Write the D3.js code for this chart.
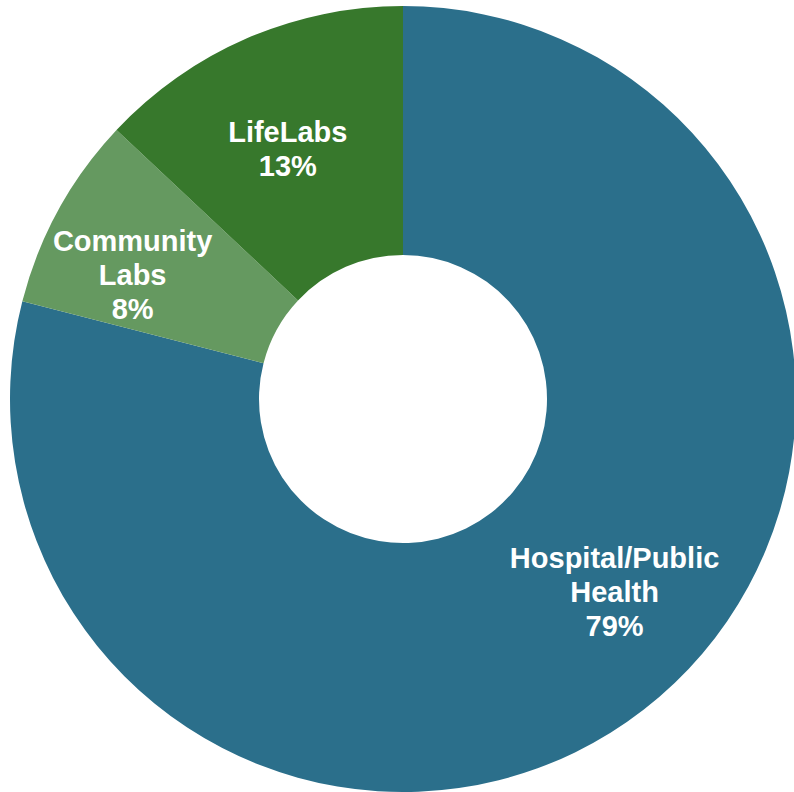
<!DOCTYPE html>
<html>
<head>
<meta charset="utf-8">
<script src="https://cdn.jsdelivr.net/npm/d3@7"></script>
<style>
html,body{margin:0;padding:0;background:#fff;}
svg{display:block;}
</style>
</head>
<body>
<svg id="chart" width="794" height="792"></svg>
<script>
const categories = ["Hospital/Public Health", "Community Labs", "LifeLabs"];
const labelLines = [["Hospital/Public", "Health"], ["Community", "Labs"], ["LifeLabs"]];
const values = [79, 8, 13];
const colors = ["#2b6f8b", "#659960", "#37782c"];
// label nudges relative to arc centroid (style)
const labelNudge = [[40, -29], [-25, 10], [-4, 7]];

const svg = d3.select("#chart");
const cx = 403, cy = 399, R = 393, r = 144;
const g = svg.append("g").attr("transform", `translate(${cx},${cy})`);

const pie = d3.pie().sort(null).value(d => d.v);
const data = categories.map((c, i) => ({c, v: values[i], i}));
const arcs = pie(data);
const arc = d3.arc().innerRadius(r).outerRadius(R);
const labelArc = d3.arc().innerRadius(280).outerRadius(280);

g.selectAll("path").data(arcs).join("path")
  .attr("d", arc)
  .attr("fill", d => colors[d.data.i]);

const fs = 29, lh = 34;
arcs.forEach(d => {
  const [x, y] = labelArc.centroid(d);
  const i = d.data.i;
  const lines = labelLines[i].concat([d.data.v + "%"]);
  const lx = x + labelNudge[i][0], ly = y + labelNudge[i][1];
  const t = g.append("text")
    .attr("text-anchor", "middle")
    .attr("fill", "#ffffff")
    .attr("font-family", "'Liberation Sans', Arial, sans-serif")
    .attr("font-weight", "bold")
    .attr("font-size", fs + "px");
  const first = ly - (lines.length - 1) * lh / 2 + fs * 0.36;
  lines.forEach((ln, k) => {
    t.append("tspan").attr("x", lx).attr("y", first + k * lh).text(ln);
  });
});
</script>
</body>
</html>
